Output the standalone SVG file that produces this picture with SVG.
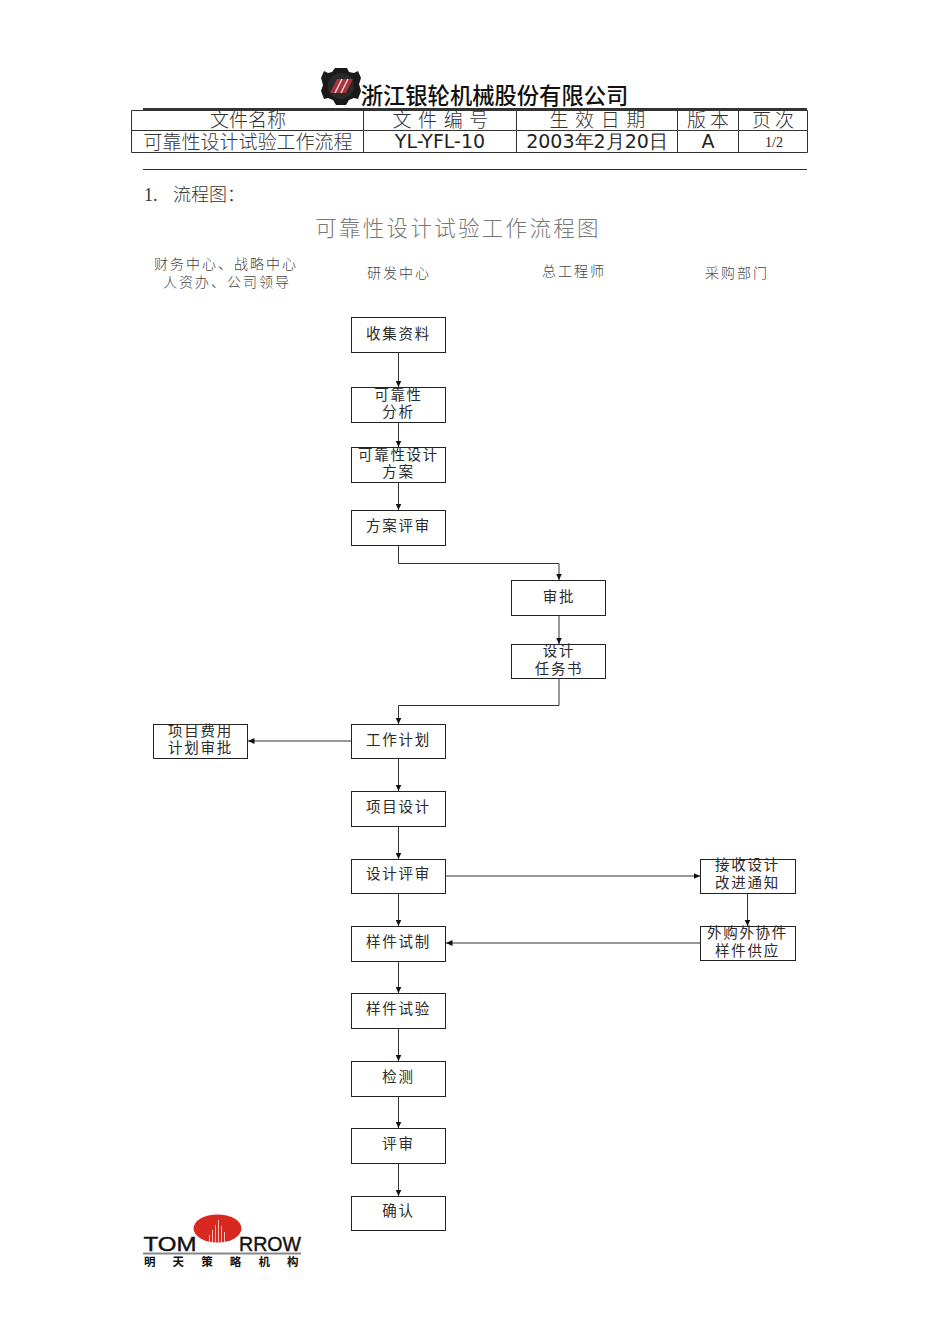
<svg xmlns="http://www.w3.org/2000/svg" width="950" height="1344" viewBox="0 0 950 1344">
<style>
text{font-family:"Noto Sans CJK SC","DejaVu Sans",sans-serif;fill:#222;text-anchor:middle}
.b rect{fill:#fff;stroke:#222;stroke-width:1}
.b text{font-size:14.5px;letter-spacing:1.7px;fill:#2a2a2a}
.t{font-size:19px;font-weight:300;fill:#333}
.l{font-family:"DejaVu Sans",sans-serif;font-size:19px}
.h{font-size:14px;fill:#444;font-weight:300;letter-spacing:2px}
#connectors path{fill:none;stroke:#333;stroke-width:1;marker-end:url(#a)}
#table path{fill:none;stroke:#333;stroke-width:1}
</style>
<defs>
<marker id="a" markerUnits="userSpaceOnUse" markerWidth="7" markerHeight="7" refX="6.500" refY="3" orient="auto"><path d="M0,0L6.500,3L0,6Z" fill="#111"/></marker>
</defs>
<rect width="950" height="1344" fill="#fff"/>
<g id="logo-top">
<path fill="#1a1a1a" d="M335,68L347,68L349,72L354,73L358,71L361,78L359,84L361,91L358,99L354,98L349,100L346,105L336,105L333,100L328,98L324,99L321,91L323,85L321,78L324,71L328,73L332,72Z"/>
<circle cx="341" cy="86" r="13" fill="#2a2a2a"/>
<path fill="#a8323a" d="M330,93L337,79H353L346,93Z"/>
<path stroke="#e8d8d8" stroke-width="1.500" fill="none" d="M335,93L342,79M341,93L348,79"/>
</g>
<text x="494.500" y="104" style="font-size:22.300px;fill:#111;font-weight:500">浙江银轮机械股份有限公司</text>
<g id="table">
<path d="M143,109H807" style="stroke-width:2"/>
<path d="M131.500,110.500H807.500V152.500H131.500ZM131.500,130.500H807.500M363.500,110V153M516.500,110V153M677.500,110V153M738.500,110V153"/>
<text class="t" x="441" y="127" letter-spacing="1.200">文 件 编 号</text>
<text class="t" x="248" y="127">文件名称</text>
<text class="t" x="598" y="127" letter-spacing="1.200">生 效 日 期</text>
<text class="t" x="708" y="127">版 本</text>
<text class="t" x="773" y="127">页 次</text>
<text class="t" x="248" y="149">可靠性设计试验工作流程</text>
<text class="l" x="440" y="148">YL-YFL-10</text>
<text class="l" x="597" y="148">2003<tspan class="t">年</tspan>2<tspan class="t">月</tspan>20<tspan class="t">日</tspan></text>
<text class="l" x="708" y="148">A</text>
<text x="774" y="147" style="font-family:'Liberation Serif',serif;font-size:14px">1/2</text>
<path d="M143,169.500H807"/>
</g>
<text x="144" y="201" style="font-size:18px;font-weight:300;fill:#333;text-anchor:start"><tspan style="font-family:'Liberation Serif',serif">1.</tspan><tspan x="173">流程图：</tspan></text>
<text x="458" y="236" style="font-size:21.500px;font-weight:300;fill:#777;letter-spacing:2.300px">可靠性设计试验工作流程图</text>
<g id="headers">
<text class="h" x="226" y="269"><tspan x="226">财务中心、战略中心</tspan><tspan x="227" dy="18">人资办、公司领导</tspan></text>
<text class="h" x="399" y="278">研发中心</text>
<text class="h" x="574" y="276">总工程师</text>
<text class="h" x="737" y="278">采购部门</text>
</g>
<g id="connectors">
<path d="M398.500,352V387"/>
<path d="M398.500,423V447"/>
<path d="M398.500,483V510"/>
<path d="M398.500,546V563.500H559V580"/>
<path d="M559,616V644"/>
<path d="M559,679V705.500H398.500V724"/>
<path d="M351,741H248"/>
<path d="M398.500,759V791"/>
<path d="M398.500,826V859"/>
<path d="M398.500,893V926"/>
<path d="M398.500,961V993"/>
<path d="M398.500,1028V1061"/>
<path d="M398.500,1096V1128"/>
<path d="M398.500,1163V1196"/>
<path d="M445,876H700"/>
<path d="M747.500,893V926"/>
<path d="M700,943H446"/>
</g>
<g id="n1" class="b"><rect x="351.500" y="317.500" width="94" height="35"/><text x="398.500" y="339">收集资料</text></g>
<g id="n2" class="b"><rect x="351.500" y="387.500" width="94" height="35"/><text y="400"><tspan x="398.500">可靠性</tspan><tspan x="398.500" dy="17">分析</tspan></text></g>
<g id="n3" class="b"><rect x="351.500" y="447.500" width="94" height="35"/><text y="460"><tspan x="398.500">可靠性设计</tspan><tspan x="398.500" dy="17">方案</tspan></text></g>
<g id="n4" class="b"><rect x="351.500" y="510.500" width="94" height="35"/><text x="398.500" y="531">方案评审</text></g>
<g id="n5" class="b"><rect x="511.500" y="580.500" width="94" height="35"/><text x="559" y="602">审批</text></g>
<g id="n6" class="b"><rect x="511.500" y="644.500" width="94" height="34"/><text y="656"><tspan x="559">设计</tspan><tspan x="559" dy="18">任务书</tspan></text></g>
<g id="n7" class="b"><rect x="153.500" y="724.500" width="94" height="34"/><text y="736"><tspan x="200.500">项目费用</tspan><tspan x="200.500" dy="17">计划审批</tspan></text></g>
<g id="n8" class="b"><rect x="351.500" y="724.500" width="94" height="34"/><text x="398.500" y="745">工作计划</text></g>
<g id="n9" class="b"><rect x="351.500" y="791.500" width="94" height="35"/><text x="398.500" y="812">项目设计</text></g>
<g id="n10" class="b"><rect x="351.500" y="859.500" width="94" height="34"/><text x="398.500" y="879">设计评审</text></g>
<g id="n11" class="b"><rect x="700.500" y="859.500" width="95" height="34"/><text y="870"><tspan x="747.500">接收设计</tspan><tspan x="747.500" dy="18">改进通知</tspan></text></g>
<g id="n12" class="b"><rect x="351.500" y="926.500" width="94" height="35"/><text x="398.500" y="947">样件试制</text></g>
<g id="n13" class="b"><rect x="700.500" y="926.500" width="95" height="34"/><text y="938"><tspan x="747.500">外购外协件</tspan><tspan x="747.500" dy="18">样件供应</tspan></text></g>
<g id="n14" class="b"><rect x="351.500" y="993.500" width="94" height="35"/><text x="398.500" y="1014">样件试验</text></g>
<g id="n15" class="b"><rect x="351.500" y="1061.500" width="94" height="35"/><text x="398.500" y="1082">检测</text></g>
<g id="n16" class="b"><rect x="351.500" y="1128.500" width="94" height="35"/><text x="398.500" y="1149">评审</text></g>
<g id="n17" class="b"><rect x="351.500" y="1196.500" width="94" height="34"/><text x="398.500" y="1216">确认</text></g>
<g id="logo-bottom">
<ellipse cx="217.500" cy="1228.500" rx="24" ry="14" fill="#d8281f"/>
<path stroke="#f3c0b8" stroke-width="1" d="M209.500,1242V1235M212.500,1242V1230M215.500,1242V1225M218.500,1242V1220M221.500,1242V1226M224.500,1242V1232"/>
<text x="170" y="1251" style="font-family:'Liberation Sans',sans-serif;font-size:20px;fill:#111;stroke:#111;stroke-width:.4" textLength="53" lengthAdjust="spacingAndGlyphs">TOM</text>
<text x="270" y="1251" style="font-family:'Liberation Sans',sans-serif;font-size:20px;fill:#111;stroke:#111;stroke-width:.4" textLength="62" lengthAdjust="spacingAndGlyphs">RROW</text>
<rect x="143" y="1252.500" width="158" height="2" fill="#888"/>
<text x="144" y="1266" style="font-size:11.500px;font-weight:700;fill:#111;letter-spacing:17.100px;text-anchor:start">明天策略机构</text>
</g>
</svg>
